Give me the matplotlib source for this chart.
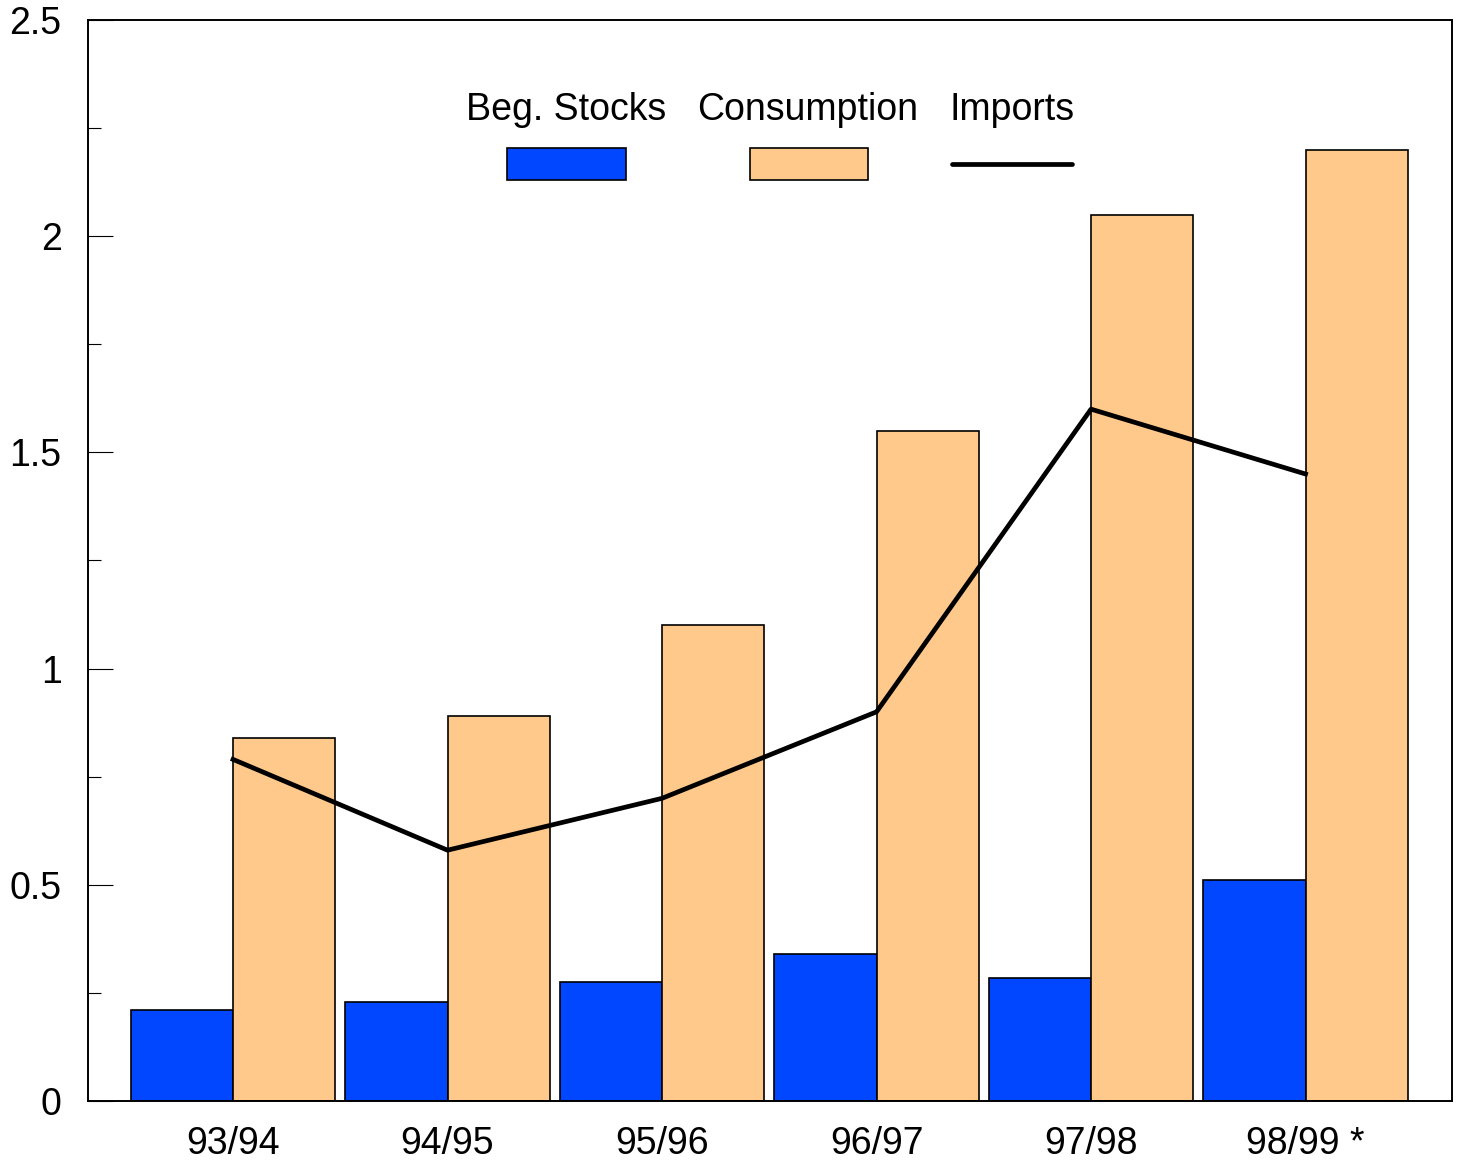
import numpy as np
import matplotlib
matplotlib.use("Agg")
import matplotlib.pyplot as plt
from matplotlib.patches import Rectangle
from matplotlib.lines import Line2D
from matplotlib.ticker import MultipleLocator

plt.rcParams.update({
    "font.family": ["Liberation Sans", "DejaVu Sans"],
    "font.size": 27,
})

seasons = ["93/94", "94/95", "95/96", "96/97", "97/98", "98/99 *"]
beg_stocks = [0.21, 0.23, 0.275, 0.34, 0.285, 0.51]
consumption = [0.84, 0.89, 1.10, 1.55, 2.05, 2.20]
imports = [0.79, 0.58, 0.70, 0.90, 1.60, 1.45]

BLUE = "#0047FF"
ORANGE = "#FFC98C"

fig = plt.figure(figsize=(14.58, 11.62), dpi=100)
ax = fig.add_axes([0.0604, 0.0525, 0.9355, 0.9303])

x = np.arange(len(seasons))
w = 0.476
ax.bar(x - w / 2, beg_stocks, w, color=BLUE, edgecolor="black", lw=1.2, zorder=2)
ax.bar(x + w / 2, consumption, w, color=ORANGE, edgecolor="black", lw=1.2, zorder=2)
ax.plot(x, imports, color="black", lw=3.4, zorder=3)

ax.set_xlim(-0.676, 5.683)
ax.set_ylim(0, 2.5)
ax.set_xticks(x)
ax.set_xticklabels(seasons)
ax.tick_params(axis="x", length=0, pad=18)
ax.yaxis.set_major_locator(MultipleLocator(0.5))
ax.yaxis.set_minor_locator(MultipleLocator(0.25))
ax.set_yticks([0, 0.5, 1, 1.5, 2, 2.5])
ax.set_yticklabels(["0", "0.5", "1", "1.5", "2", "2.5"])
ax.tick_params(axis="y", which="major", direction="in", length=18, width=0.8, pad=19)
ax.tick_params(axis="y", which="minor", direction="in", length=9, width=0.8)
for sp in ax.spines.values():
    sp.set_linewidth(1.4)

# legend drawn by hand: labels above their keys
def ax_xy(px, py):
    return (px - 88) / 1364, (1101 - py) / 1081

tr = ax.transAxes
for label, cx in [("Beg. Stocks", 566), ("Consumption", 808), ("Imports", 1012)]:
    tx, ty = ax_xy(cx, 110)
    ax.text(tx, ty, label, transform=tr, ha="center", va="center", fontsize=27)

for color, x0, x1 in [(BLUE, 507, 626), (ORANGE, 750, 868)]:
    ax0, ay0 = ax_xy(x0, 180)
    ax1_, ay1 = ax_xy(x1, 148)
    ax.add_patch(Rectangle((ax0, ay0), ax1_ - ax0, ay1 - ay0, transform=tr,
                           facecolor=color, edgecolor="black", lw=1.2, zorder=4))

lx0, ly = ax_xy(952, 164)
lx1, _ = ax_xy(1072, 164)
ax.add_line(Line2D([lx0, lx1], [ly, ly], transform=tr, color="black", lw=3.4,
                   solid_capstyle="round", zorder=4))

fig.savefig("out.png", dpi=100)
